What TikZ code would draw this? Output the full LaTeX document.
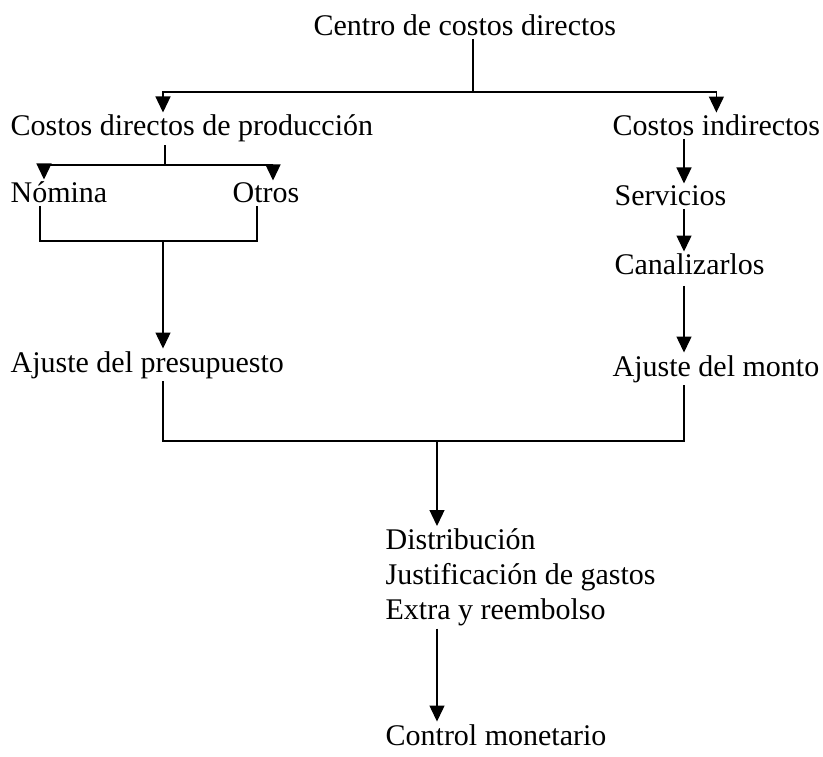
\documentclass[tikz,border=0pt]{standalone}
\usepackage{fontspec}
\setmainfont{Liberation Serif}
\usetikzlibrary{arrows.meta, positioning}
\tikzset{
  txt/.style={anchor=base west, inner sep=2pt, font=\fontsize{30}{35}\selectfont},
  arr/.style={-{Triangle[width=15pt,length=16pt]}},
}

\begin{document}
\begin{tikzpicture}[x=1pt, y=-1pt, line width=1.3pt]
    \useasboundingbox (0,0) rectangle (823,757);
    \coordinate (j1) at (473,92);
    \coordinate (j2) at (165,165);
    \coordinate (j3) at (163,241);
    \coordinate (j4) at (437,441);
    \coordinate (lc) at (163,0);
    \coordinate (rc) at (684,0);
    \node [txt] (centro) at (311,36) {Centro de costos directos};
    \draw (centro.south -| j1) -- (j1);
    \node [txt] (cdp) at (8,136) {Costos directos de producción};
    \draw [arr] (j1) -| (cdp.north -| lc);
    \node [txt] (cin) at (610,136) {Costos indirectos};
    \draw [arr] (j1) -| (cin.north);
    \node [txt] (nom) at (8,203) {Nómina};
    \node [txt] (otr) at (230,203) {Otros};
    \draw (cdp.south -| j2) -- (j2);
    \draw [arr] (j2) -| ([xshift=36pt]nom.north west);
    \draw [arr] (j2) -| ([xshift=43pt]otr.north west);
    \draw ([xshift=32pt]nom.south west) |- (j3) -| ([xshift=27pt]otr.south west);
    \node [txt] (ajp) at (8,372) {Ajuste del presupuesto};
    \draw [arr] (j3) -- (j3 |- ajp.north);
    \node [txt] (srv) at (612,206) {Servicios};
    \draw [arr] (cin.south -| rc) -- (srv.north -| rc);
    \node [txt] (can) at (612,275) {Canalizarlos};
    \draw [arr] (srv.south -| rc) -- (can.north -| rc);
    \node [txt] (ajm) at (610,376) {Ajuste del monto};
    \draw [arr] ([yshift=-8pt]can.south -| rc) -- (ajm.north -| rc);
    \draw (ajp.south -| j3) |- (j4) -| (ajm.south -| rc);
    \node [txt, anchor=north west, align=left] (dist) at (383,526)
        {Distribución\\Justificación de gastos\\Extra y reembolso};
    \draw [arr] (j4) -- (j4 |- dist.north);
    \node [txt] (ctrl) at (383,745) {Control monetario};
    \draw [arr] (dist.south -| j4) -- (j4 |- ctrl.north);
\end{tikzpicture}
\end{document}
